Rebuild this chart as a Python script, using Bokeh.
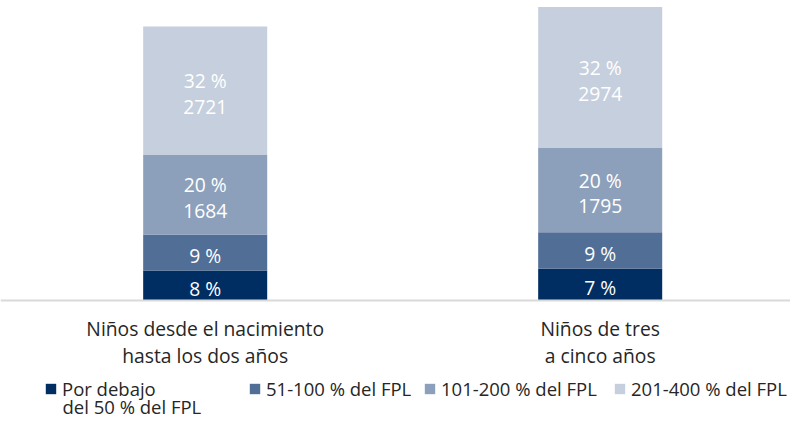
from bokeh.plotting import figure
from bokeh.models import ColumnDataSource, Range1d, Span, Legend, LegendItem, Label
from bokeh.core.properties import value
from bokeh.embed import file_html
from bokeh.resources import INLINE

# ---- data ----
categories = ["Niños desde el nacimiento\nhasta los dos años", "Niños de tres\na cinco años"]
series = ["Por debajo", "51-100 % del FPL", "101-200 % del FPL", "201-400 % del FPL"]
series_first_cont = "del 50 % del FPL"
counts_below50 = [636, 671]
counts_51_100 = [763, 776]
counts_101_200 = [1684, 1795]
counts_201_400 = [2721, 2974]
pct_below50 = [8, 7]
pct_51_100 = [9, 9]
pct_101_200 = [20, 20]
pct_201_400 = [32, 32]
show_count = [False, False, True, True]

colors = ["#002D62", "#506E96", "#8DA0BB", "#C5CFDD"]
FONT = "Open Sans"
TEXT_COLOR = "#262626"
FS = "19.3px"
LFS = "18.5px"

counts = [counts_below50, counts_51_100, counts_101_200, counts_201_400]
pcts = [pct_below50, pct_51_100, pct_101_200, pct_201_400]
xs = list(range(len(categories)))

W, H = 790, 419
p = figure(width=W, height=H, output_backend="svg", toolbar_location=None,
           x_range=Range1d(-0.5182, 1.4818), y_range=Range1d(-2521, 6356),
           x_axis_type=None, y_axis_type=None, min_border=0)
p.outline_line_color = None
p.xgrid.visible = False
p.ygrid.visible = False
p.background_fill_color = "white"
p.border_fill_color = "white"

renderers = []
bottoms = [0] * len(xs)
label_x, label_y, label_t = [], [], []
for si, (cnt, pc) in enumerate(zip(counts, pcts)):
    tops = [b + c for b, c in zip(bottoms, cnt)]
    src = ColumnDataSource(dict(x=xs, bottom=bottoms, top=tops))
    r = p.vbar(x="x", bottom="bottom", top="top", width=0.314, source=src,
               fill_color=colors[si], line_color=None)
    renderers.append(r)
    for i in xs:
        label_x.append(i)
        label_y.append((bottoms[i] + tops[i]) / 2)
        t = f"{pc[i]} %"
        if show_count[si]:
            t += f"\n{cnt[i]}"
        label_t.append(t)
    bottoms = tops

p.text(x=label_x, y=label_y, text=label_t, text_align="center", text_baseline="middle",
       text_color="white", text_font=value(FONT), text_font_size=FS,
       text_line_height=0.95, y_offset=3)

p.add_layout(Span(location=0, dimension="width", line_color="#D9D9D9", line_width=2))

p.text(x=xs, y=[0] * len(xs), text=categories, text_align="center", text_baseline="top",
       text_color=TEXT_COLOR, text_font=value(FONT), text_font_size=FS,
       text_line_height=1.0, y_offset=14)

leg_x = [44, 248, 423, 613]
for si in range(4):
    lg = Legend(items=[LegendItem(label=series[si], renderers=[renderers[si]])],
                location=(leg_x[si], 18), orientation="vertical",
                padding=0, margin=0, spacing=0, border_line_color=None,
                background_fill_alpha=0, glyph_width=13, glyph_height=13,
                label_standoff=5, label_text_font=FONT, label_text_font_size=LFS,
                label_text_color=TEXT_COLOR, label_text_line_height=0.85)
    p.add_layout(lg)

p.add_layout(Label(x=leg_x[0] + 18, y=13, x_units="screen", y_units="screen",
                   text=series_first_cont, text_font=FONT, text_font_size=LFS,
                   text_color=TEXT_COLOR, text_baseline="middle", text_align="left"))

open("out.html", "w").write(file_html(p, INLINE))
